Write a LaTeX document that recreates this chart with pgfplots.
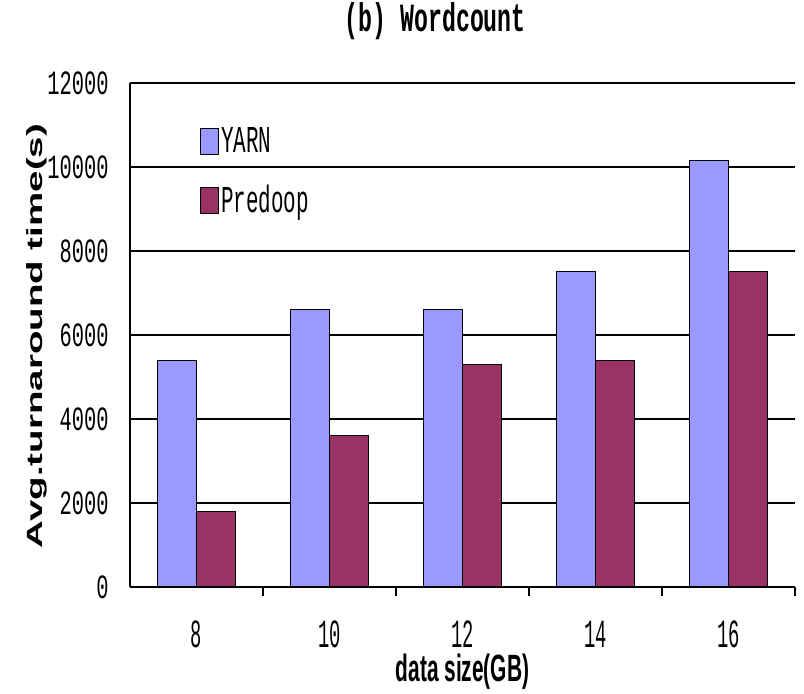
\documentclass[border=0pt]{standalone}
\usepackage{fontspec}
\setmainfont{Liberation Serif}
\usepackage{pgfplots}
\pgfplotsset{compat=1.18}

% condensed faces for the labels
\newfontfamily\titlefont[FakeStretch=0.58]{Liberation Mono}
\newfontfamily\legfont[FakeStretch=0.55]{Liberation Mono}
\newfontfamily\ytickfont[FakeStretch=0.6]{Liberation Mono}
\newfontfamily\xtickfont[FakeStretch=0.47]{Liberation Mono}
\newfontfamily\xlabfont[FakeStretch=0.55]{Liberation Sans}
\newfontfamily\ylabfont[FakeStretch=1.75]{Liberation Sans}

\definecolor{yarnblue}{RGB}{153,153,255}
\definecolor{predoopred}{RGB}{153,51,102}

\pgfplotsset{
  legbox/.style={legend image code/.code={%
      \draw[##1, draw=black, line width=0.5pt] (0pt,-6.5pt) rectangle (9pt,6.5pt);}},
}

\begin{document}
\begin{tikzpicture}[x=1pt,y=1pt]
\useasboundingbox (-65,-53.5) rectangle (337,293.5);
\begin{axis}[
  at={(0,0)}, anchor=south west,
  scale only axis, width=332.5pt, height=252pt,
  ybar=0pt, bar width=19.5pt,
  xmin=-0.5, xmax=4.5, ymin=0, ymax=12000,
  xtick={0,...,4}, xticklabels={8,10,12,14,16},
  minor xtick={0.5,1.5,2.5,3.5,4.5},
  ytick={0,2000,...,12000},
  ymajorgrids, grid style={black, line width=0.8pt},
  major tick length=0pt, minor tick length=4.5pt,
  tick style={black, line width=0.8pt},
  axis x line*=bottom, axis y line*=left,
  axis line style={black, line width=1pt, -},
  scaled y ticks=false,
  yticklabel style={/pgf/number format/assume math mode=true,
    /pgf/number format/1000 sep={},
    font=\ytickfont\fontsize{17}{17}\selectfont,
    anchor=east, inner sep=0pt, xshift=-10.5pt},
  xticklabel style={font=\xtickfont\fontsize{20}{20}\selectfont,
    anchor=center, inner sep=0pt, yshift=-23.5pt},
  title={\titlefont\bfseries\fontsize{20}{20}\selectfont (b) Wordcount},
  title style={at={(axis description cs:0.459,1.099)}, anchor=center, inner sep=0pt},
  xlabel={\xlabfont\bfseries\fontsize{19}{19}\selectfont data size(GB)},
  xlabel style={at={(axis description cs:0.5,-0.169)}, anchor=center, inner sep=0pt},
  ylabel={\ylabfont\bfseries\fontsize{11}{11}\selectfont Avg.turnaround time(s)},
  ylabel style={at={(axis description cs:-0.14,0.498)}, anchor=center, inner sep=0pt},
  legend style={at={(axis description cs:0.105,0.917)}, anchor=north west,
    draw=none, fill=none, inner sep=0pt, row sep=13pt,
    font=\legfont\fontsize{19}{19}\selectfont,
    nodes={inner sep=1pt}},
  legend cell align=left,
]
\addplot[fill=yarnblue, draw=black, line width=0.5pt, legbox]
  coordinates {(0,5400) (1,6600) (2,6600) (3,7500) (4,10150)};
\addlegendentry{YARN}
\addplot[fill=predoopred, draw=black, line width=0.5pt, legbox]
  coordinates {(0,1800) (1,3600) (2,5300) (3,5400) (4,7500)};
\addlegendentry{Predoop}
\end{axis}
\end{tikzpicture}
\end{document}
